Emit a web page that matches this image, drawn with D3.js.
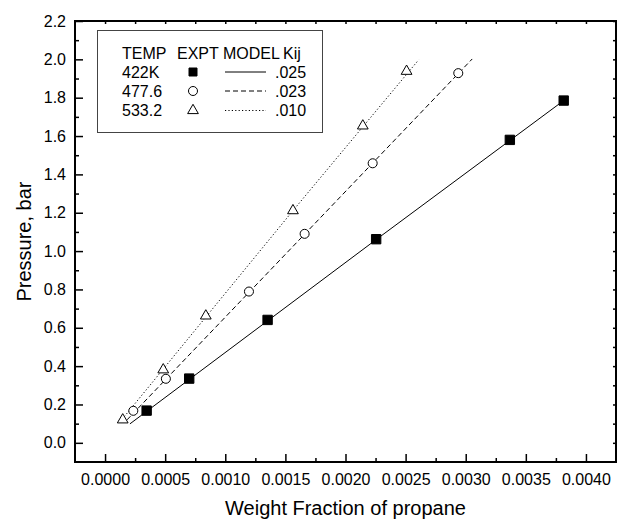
<!DOCTYPE html>
<html>
<head>
<meta charset="utf-8">
<script src="https://cdn.jsdelivr.net/npm/d3@7/dist/d3.min.js"></script>
<style>
  html, body { margin: 0; padding: 0; background: #fff; }
  svg { display: block; font-family: "Liberation Sans", Arial, sans-serif; }
</style>
</head>
<body>
<svg id="chart" width="617" height="521"></svg>
<script>
// Experimental points: weight fraction of propane vs pressure (bar)
const x422 = [0.000346, 0.000700, 0.001352, 0.002255, 0.003367, 0.003815];
const p422 = [0.168, 0.335, 0.641, 1.062, 1.580, 1.785];
const x477 = [0.000235, 0.000506, 0.001197, 0.001660, 0.002226, 0.002938];
const p477 = [0.167, 0.334, 0.789, 1.090, 1.458, 1.928];
const x533 = [0.000147, 0.000484, 0.000838, 0.001563, 0.002144, 0.002508];
const p533 = [0.120, 0.381, 0.662, 1.211, 1.653, 1.938];

// Model curves
const mx422 = [0.000207, 0.002255, 0.003815];
const mp422 = [0.099, 1.060, 1.785];
const mx477 = [0.000183, 0.001660, 0.003054];
const mp477 = [0.120, 1.088, 2.002];
const mx533 = [0.000124, 0.001563, 0.002608];
const mp533 = [0.109, 1.211, 1.997];

// Legend rows
const legendHeader = ["TEMP", "EXPT", "MODEL", "Kij"];
const legendTemps = ["422K", "477.6", "533.2"];
const legendKij = [".025", ".023", ".010"];

// Axis ticks
const xTicks = [0, 0.0005, 0.0010, 0.0015, 0.0020, 0.0025, 0.0030, 0.0035, 0.0040];
const xMinor = [0.00025, 0.00075, 0.00125, 0.00175, 0.00225, 0.00275, 0.00325, 0.00375];
const yTicks = [0.0, 0.2, 0.4, 0.6, 0.8, 1.0, 1.2, 1.4, 1.6, 1.8, 2.0, 2.2];
const yMinor = [0.1, 0.3, 0.5, 0.7, 0.9, 1.1, 1.3, 1.5, 1.7, 1.9, 2.1];

const svg = d3.select("#chart");
const L = 75, R = 616, T = 21, B = 462;

const x = d3.scaleLinear().domain([-0.00025, 0.00425]).range([L, R]);
const y = d3.scaleLinear().domain([-0.1, 2.2]).range([B, T]);

// Axes with inward ticks
const gx = svg.append("g").attr("transform", `translate(0,${B})`)
  .call(d3.axisBottom(x).tickValues(xTicks).tickFormat(d3.format(".4f"))
    .tickSizeInner(-8).tickSizeOuter(0).tickPadding(12));
const gxm = svg.append("g").attr("transform", `translate(0,${B})`)
  .call(d3.axisBottom(x).tickValues(xMinor).tickFormat("").tickSizeInner(-4).tickSizeOuter(0));
const gy = svg.append("g").attr("transform", `translate(${L},0)`)
  .call(d3.axisLeft(y).tickValues(yTicks).tickFormat(d3.format(".1f"))
    .tickSizeInner(-8).tickSizeOuter(0).tickPadding(9));
const gym = svg.append("g").attr("transform", `translate(${L},0)`)
  .call(d3.axisLeft(y).tickValues(yMinor).tickFormat("").tickSizeInner(-4).tickSizeOuter(0));
// Top and right mirror ticks
const gt = svg.append("g").attr("transform", `translate(0,${T})`)
  .call(d3.axisTop(x).tickValues(xTicks.concat(xMinor)).tickFormat("").tickSizeInner(-3).tickSizeOuter(0));
const gr = svg.append("g").attr("transform", `translate(${R},0)`)
  .call(d3.axisRight(y).tickValues(yTicks.concat(yMinor)).tickFormat("").tickSizeInner(-3).tickSizeOuter(0));

[gx, gxm, gy, gym, gt, gr].forEach(g => {
  g.select(".domain").remove();
  g.selectAll(".tick line").attr("stroke", "#000").attr("stroke-width", 1.5);
  g.selectAll(".tick text").attr("fill", "#000").style("font-size", "16px")
    .style("font-family", "'Liberation Sans', Arial, sans-serif");
});

// Frame
svg.append("rect").attr("x", L).attr("y", T).attr("width", R - L).attr("height", B - T)
  .attr("fill", "none").attr("stroke", "#000").attr("stroke-width", 2);

// Model lines
const models = [
  { xs: mx422, ys: mp422, dash: null },
  { xs: mx477, ys: mp477, dash: "5,3" },
  { xs: mx533, ys: mp533, dash: "1.2,2.2" }
];
const line = d3.line().x(d => x(d[0])).y(d => y(d[1]));
models.forEach(m => {
  svg.append("path").datum(m.xs.map((v, i) => [v, m.ys[i]]))
    .attr("d", line).attr("fill", "none").attr("stroke", "#000").attr("stroke-width", 1)
    .attr("stroke-dasharray", m.dash);
});

// Markers
const sq = d3.symbol().type(d3.symbolSquare).size(88);
const ci = d3.symbol().type(d3.symbolCircle).size(64);
const tr = d3.symbol().type(d3.symbolTriangle).size(50);

svg.append("g").selectAll("path").data(x422.map((v, i) => [v, p422[i]])).join("path")
  .attr("transform", d => `translate(${x(d[0])},${y(d[1])})`)
  .attr("d", sq).attr("fill", "#000").attr("stroke", "#000");
svg.append("g").selectAll("path").data(x477.map((v, i) => [v, p477[i]])).join("path")
  .attr("transform", d => `translate(${x(d[0])},${y(d[1])})`)
  .attr("d", ci).attr("fill", "#fff").attr("stroke", "#000").attr("stroke-width", 1);
svg.append("g").selectAll("path").data(x533.map((v, i) => [v, p533[i]])).join("path")
  .attr("transform", d => `translate(${x(d[0])},${y(d[1])})`)
  .attr("d", tr).attr("fill", "#fff").attr("stroke", "#000").attr("stroke-width", 1);

// Legend
const lg = svg.append("g").style("font-size", "16px").attr("fill", "#000");
lg.append("rect").attr("x", 97.5).attr("y", 30.5).attr("width", 225).attr("height", 102)
  .attr("fill", "#fff").attr("stroke", "#444").attr("stroke-width", 1);
const headX = [122, 177, 223, 283];
legendHeader.forEach((t, i) => lg.append("text").attr("x", headX[i]).attr("y", 58.5).text(t));
const rowY = [77.5, 96.5, 116];
legendTemps.forEach((t, i) => lg.append("text").attr("x", 122).attr("y", rowY[i]).text(t));
legendKij.forEach((t, i) => lg.append("text").attr("x", 275).attr("y", rowY[i]).text(t));
const syms = [sq, ci, tr];
const fills = ["#000", "#fff", "#fff"];
syms.forEach((s, i) => {
  lg.append("path").attr("transform", `translate(193,${rowY[i] - 5.5})`)
    .attr("d", i === 0 ? d3.symbol().type(d3.symbolSquare).size(64)() : s)
    .attr("fill", fills[i]).attr("stroke", "#000").attr("stroke-width", 1);
  lg.append("line").attr("x1", 225).attr("x2", 266).attr("y1", rowY[i] - 5.5).attr("y2", rowY[i] - 5.5)
    .attr("stroke", "#000").attr("stroke-width", 1).attr("stroke-dasharray", models[i].dash);
});

// Axis titles
svg.append("text").attr("x", 345.5).attr("y", 515).attr("text-anchor", "middle")
  .style("font-size", "20px").text("Weight Fraction of propane");
svg.append("text").attr("transform", "translate(31,241.5) rotate(-90)").attr("text-anchor", "middle")
  .style("font-size", "20px").text("Pressure, bar");
</script>
</body>
</html>
